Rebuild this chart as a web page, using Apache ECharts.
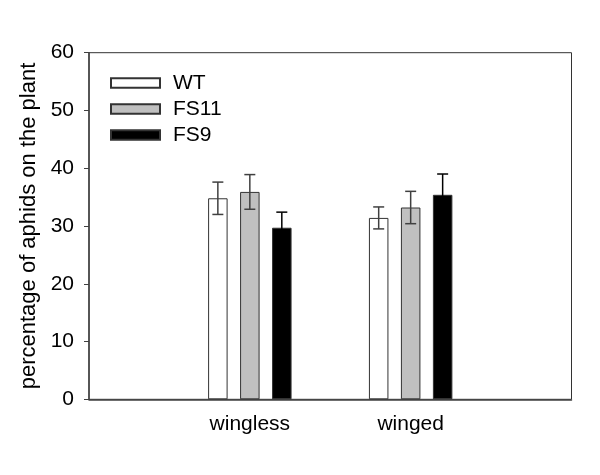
<!DOCTYPE html>
<html>
<head>
<meta charset="utf-8">
<script src="https://cdn.jsdelivr.net/npm/echarts@6/dist/echarts.min.js"></script>
<style>html,body{margin:0;padding:0;background:#fff}#c{width:600px;height:475px}</style>
</head>
<body>
<div id="c"></div>
<script>
var categories = ['', 'wingless', 'winged', ''];
var seriesNames = ['WT', 'FS11', 'FS9'];
var wtValues   = [null, 34.8, 31.4, null];
var fs11Values = [null, 35.9, 33.2, null];
var fs9Values  = [null, 29.7, 35.4, null];
var wtErr   = [null, 2.8, 1.9, null];
var fs11Err = [null, 3.0, 2.8, null];
var fs9Err  = [null, 2.7, 3.6, null];
var yTicks = [0, 10, 20, 30, 40, 50, 60];

var FONT = '"Liberation Sans", Arial, sans-serif';
var BAR_W = 19.5, BAR_GAP = 0.64;
var colors = ['#ffffff', '#c0c0c0', '#000000'];
var values = [wtValues, fs11Values, fs9Values];
var errs = [wtErr, fs11Err, fs9Err];

var chart = echarts.init(document.getElementById('c'), null, {renderer: 'canvas'});

var series = [];
seriesNames.forEach(function (name, i) {
  series.push({
    name: name, type: 'bar', data: values[i],
    barWidth: BAR_W, barGap: (BAR_GAP * 100) + '%',
    itemStyle: {color: colors[i], borderColor: '#333', borderWidth: 1},
    emphasis: {disabled: true}, z: 2
  });
});
seriesNames.forEach(function (name, i) {
  var d = [];
  values[i].forEach(function (v, k) { if (v != null) d.push([k, v, errs[i][k]]); });
  series.push({
    type: 'custom', name: name + '_err', z: 5, silent: true,
    data: d,
    renderItem: function (params, api) {
      var off = (i - 1) * BAR_W * (1 + BAR_GAP);
      var c = api.value(0), v = api.value(1), e = api.value(2);
      var top = api.coord([c, v + e]);
      var bot = api.coord([c, v - e]);
      var x = top[0] + off, hw = 5.5;
      var st = {stroke: i === 2 ? '#000' : '#404040', lineWidth: 1.5};
      return {type: 'group', children: [
        {type: 'line', shape: {x1: x, y1: top[1], x2: x, y2: bot[1]}, style: st},
        {type: 'line', shape: {x1: x - hw, y1: top[1], x2: x + hw, y2: top[1]}, style: st},
        {type: 'line', shape: {x1: x - hw, y1: bot[1], x2: x + hw, y2: bot[1]}, style: st}
      ]};
    }
  });
});

chart.setOption({
  animation: false,
  backgroundColor: '#fff',
  textStyle: {fontFamily: FONT},
  grid: {left: 89, right: 28.5, top: 52.7, bottom: 75.7, show: true, borderColor: '#333', borderWidth: 1, containLabel: false},
  legend: {
    data: seriesNames, orient: 'vertical', left: 105, top: 67.5,
    itemWidth: 49, itemHeight: 9.5, itemGap: 5, icon: 'rect',
    textStyle: {fontSize: 21, lineHeight: 21, color: '#000', fontFamily: FONT, padding: [0, 0, 0, 8]},
    selectedMode: false
  },
  xAxis: {
    type: 'category', data: categories, boundaryGap: false,
    axisLine: {lineStyle: {color: '#404040', width: 1.5}},
    axisTick: {show: false},
    axisLabel: {fontSize: 21, color: '#000', margin: 14, fontFamily: FONT, interval: 0},
    splitLine: {show: false}
  },
  yAxis: {
    type: 'value', min: yTicks[0], max: yTicks[yTicks.length - 1], interval: 10,
    name: 'percentage of aphids on the plant', nameLocation: 'middle', nameGap: 46,
    nameTextStyle: {fontSize: 22, color: '#000', fontFamily: FONT},
    axisLine: {show: true, lineStyle: {color: '#404040', width: 1.5}},
    axisTick: {show: true, length: 5, lineStyle: {color: '#404040'}},
    axisLabel: {fontSize: 21, color: '#000', margin: 15, fontFamily: FONT},
    splitLine: {show: false}
  },
  series: series
});
</script>
</body>
</html>
